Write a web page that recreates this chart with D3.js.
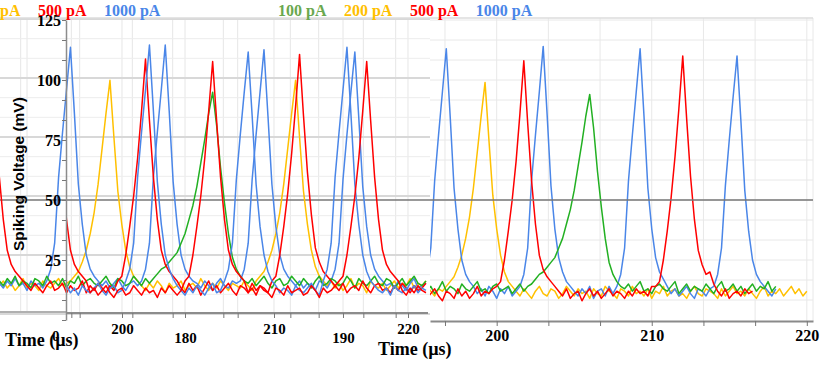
<!DOCTYPE html>
<html>
<head>
<meta charset="utf-8">
<script src="https://cdn.jsdelivr.net/npm/d3@7"></script>
<style>
  body { margin: 0; background: #fff; }
  svg { display: block; }
  text { font-family: "Liberation Serif", "Times New Roman", serif; font-weight: bold; }
</style>
</head>
<body>
<svg id="chart" width="830" height="373"></svg>
<script>
// ---- data (mV, one sample every 0.25 us) ----
var currents = ["100 pA", "200 pA", "500 pA", "1000 pA"];
var yTickLabels = [25, 50, 75, 100, 125];
var bgXTickLabels = [200, 210, 220];
var ovXTickLabelsA = [180, 190];
var ovXTickLabelsB = [200, 210, 220];

var step = 0.25;
var bgStart = 195.0;

var bgBlue = [12, 14, 19, 30, 58, 77, 95, 113, 85, 55, 38, 25, 19, 16, 14,
  11, 13, 10, 14, 12, 9, 13, 11, 14, 10, 12,
  14, 19, 30, 58, 77, 95, 114, 86, 56, 38, 26, 20, 16, 14,
  12, 10, 13, 11, 14, 9, 12, 13, 10, 14, 11,
  14, 19, 30, 58, 77, 95, 113, 85, 55, 38, 26, 20, 17, 14,
  11, 13, 10, 12, 14, 11, 9, 13, 12, 10, 13,
  14, 19, 30, 56, 75, 93, 110, 83, 54, 37, 25, 19, 16, 14,
  12, 10, 13];

var bgYellow = [13, 11, 14, 12, 10, 13, 12,
  14, 16, 18, 22, 27, 34, 43, 55, 70, 85, 99, 75, 52, 38, 27, 20, 16, 14,
  12, 10, 13, 11, 9, 12, 14, 11, 10, 13, 12, 9, 11, 14, 12, 10, 13, 11, 12, 9,
  13, 11, 10, 14, 12, 11, 9, 13, 12, 10, 14, 11, 12, 10, 13, 9, 12, 11, 14, 10,
  12, 13, 10, 11, 9, 12, 14, 11, 10, 13, 12, 11, 9, 13, 10, 12, 14, 11, 12, 10,
  13, 11, 9, 12, 14, 10, 12, 11, 13, 10, 12, 14, 11, 13, 10, 12];

var bgRed = [10, 12, 9, 11, 13, 10, 8, 12, 11, 9, 13, 10, 12, 9, 11, 14, 10, 12, 11, 13,
  14, 16, 25, 37, 50, 66, 86, 108, 82, 58, 40, 27, 21, 18, 16, 14,
  12, 10, 13, 9, 11, 12, 8, 11, 13, 10, 12, 9, 11, 13, 10, 12, 11, 9, 12, 10, 13, 11, 12, 10, 14,
  14, 16, 25, 37, 51, 68, 88, 110, 84, 60, 42, 29, 23, 19, 20, 15,
  12, 10, 13, 9, 11, 12, 10, 13, 11, 12];

var bgGreen = [13, 15, 12, 14, 11, 13, 16, 12, 14, 13, 11, 15, 13, 12, 14, 16, 12, 13, 11, 14,
  15, 12, 13, 14, 11, 13, 15, 12, 14,
  15, 17, 19, 20, 22, 24, 26, 30, 34, 40, 46, 54, 64, 74, 85, 94, 80, 62, 47, 34, 24, 19, 16, 14,
  13, 15, 12, 14, 16, 12, 13, 11, 14, 15, 13, 12, 14, 16, 11, 13, 15, 12, 14, 13,
  12, 15, 13, 11, 14, 16, 12, 13, 15, 12, 14, 11, 13, 15, 12, 14, 13, 16, 12, 14];

// inset copy of the traces
var ovStart = 168.25;
var ovStartRedB = 170.0;
var ovStartBlueB = 172.25;

var ovYellow = [12, 14, 11, 13, 10, 12, 15, 11, 13, 12, 10, 14, 12, 11, 13, 15, 12, 13,
  14, 16, 18, 22, 27, 34, 43, 55, 70, 85, 99, 75, 52, 38, 27, 20, 16, 14,
  12, 10, 13, 11, 14, 12, 9, 13, 11, 12, 14, 10, 12, 13, 11, 15, 12, 10, 13, 11,
  14, 12, 10, 13, 12, 11, 14, 12, 10,
  14, 16, 18, 22, 27, 34, 43, 55, 70, 85, 99, 75, 52, 38, 27, 20, 16, 14,
  12, 14, 11, 13, 10, 12, 15, 11, 13, 12, 9, 14, 12, 11, 13, 10, 12, 14, 11, 13,
  12, 15, 11, 13, 12, 14];

var ovGreen = [14, 12, 15, 13, 16, 12, 14, 13, 11, 15, 14, 12, 16, 13, 14, 12, 15, 11, 14, 13,
  16, 12, 14, 15, 13, 12, 14, 16, 13, 11, 15, 14, 12, 13, 16, 14, 12, 15, 13,
  15, 17, 19, 20, 22, 24, 26, 30, 34, 40, 46, 54, 64, 74, 85, 94, 80, 62, 47, 34, 24, 19, 16, 14,
  13, 15, 12, 14, 16, 13, 11, 14, 15, 12, 13, 16, 14, 12, 15, 13, 11, 14, 16, 12,
  13, 15, 14, 12, 13, 16, 14, 11, 15, 13, 12, 14, 16, 13, 12, 15, 14, 11, 13, 15,
  12, 14, 16, 13, 12, 14];

var ovRedA = [58, 40, 27, 21, 18, 16, 14,
  12, 10, 13, 11, 9, 12, 14, 10, 11, 13, 9, 12, 10, 11, 14, 9, 12, 10, 13, 11, 9, 12, 10,
  14, 16, 25, 37, 50, 66, 86, 108, 82, 58, 40, 27, 21, 18, 16, 14,
  11, 9, 13, 10, 12, 8, 11, 14, 10, 12, 9, 11, 13, 10, 8, 12, 11, 9, 13, 10, 12, 11, 9,
  14, 16, 25, 37, 51, 68, 88, 110, 84, 60, 42, 28, 22, 18, 16, 14,
  12, 10, 13, 9, 11, 12, 10, 14, 11, 9, 12, 13, 10, 11, 9, 12, 10, 13, 11, 9, 12, 10, 11, 13];

var ovRedB = [14, 16, 25, 37, 50, 66, 86, 108, 82, 58, 40, 27, 21, 18, 16, 14,
  9, 11, 8, 10, 12, 9, 7, 10, 11, 8, 9, 12, 10, 8, 11, 9, 10, 7, 11, 9, 12, 10, 8, 10,
  14, 16, 25, 37, 50, 66, 86, 107, 82, 58, 40, 27, 21, 18, 16, 14,
  9, 11, 8, 12, 10, 9, 7, 11, 10, 8, 12, 9, 10, 11, 8, 9, 12, 10, 7, 11, 9, 10, 12,
  14, 16, 25, 37, 50, 66, 86, 107, 82, 58, 40, 27, 21, 18, 16, 14,
  10, 8, 11, 9, 12, 10, 9];

var ovBlueA = [13, 11, 14, 12, 15, 12, 13, 10, 14, 12, 13, 11,
  14, 19, 30, 58, 77, 95, 113, 85, 55, 38, 25, 19, 16, 14,
  12, 14, 11, 13, 15, 12, 10, 13, 14, 12,
  14, 19, 30, 58, 77, 95, 114, 86, 56, 38, 25, 19, 16, 14,
  13, 11, 14, 12, 10, 13, 15, 12, 11, 14, 13,
  14, 19, 30, 57, 76, 94, 112, 84, 55, 37, 25, 19, 16, 14,
  12, 14, 11, 13, 12, 10, 14, 13, 11,
  14, 19, 30, 57, 76, 94, 111, 83, 54, 37, 25, 19, 16, 14,
  12, 13, 11, 14, 12, 10, 13, 15, 11, 12, 13];

var ovBlueB = [10, 12, 9, 11, 8, 12, 10, 9, 11, 13, 10, 8, 11, 12, 9, 10,
  14, 19, 30, 58, 77, 95, 114, 86, 56, 38, 25, 19, 15, 12,
  10, 8, 11, 9, 12, 10, 8, 11, 13, 9, 10,
  14, 19, 30, 57, 76, 94, 111, 84, 55, 37, 25, 18, 14, 12,
  9, 11, 10, 8, 12, 10, 9, 11, 13, 10, 8,
  14, 19, 30, 58, 77, 95, 113, 85, 55, 38, 25, 18, 14, 12,
  10, 9, 11, 8, 12, 10, 9, 11, 10, 12, 9, 11, 10];

// ---- styles ----
var traceColor = { "100 pA": "#22b022", "200 pA": "#ffc000", "500 pA": "#ff0000", "1000 pA": "#4a86e8" };
var legendColor = { "100 pA": "#6aa84f", "200 pA": "#ffc000", "500 pA": "#ff0000", "1000 pA": "#4a86e8" };

var svg = d3.select("#chart");
var third = 25 / 3;

var bgX = d3.scaleLinear().domain([195.7, 220.4]).range([430, 813]);
var bgY = d3.scaleLinear().domain([0, 125]).range([320, 20]);
var ovX = d3.scaleLinear().domain([180, 190]).range([185, 343]);
var ovXB = d3.scaleLinear().domain([200, 210, 220]).range([122, 274, 408]);
var ovY = d3.scaleLinear().domain([0, 125]).range([314, 19]);

var defs = svg.append("defs");
defs.append("clipPath").attr("id", "clipA").append("rect").attr("x", 0).attr("y", 0).attr("width", 430).attr("height", 373);
defs.append("clipPath").attr("id", "clipB").append("rect").attr("x", 66).attr("y", 0).attr("width", 364).attr("height", 373);

// background grid
var gridVals = d3.range(1, 16).map(function (k) { return k * third; });
svg.append("g").selectAll("line").data(gridVals).join("line")
  .attr("x1", 430).attr("x2", 813)
  .attr("y1", function (d) { return bgY(d); }).attr("y2", function (d) { return bgY(d); })
  .attr("stroke", "#e8e8e8");
var bgTickVals = d3.range(0, 8).map(function (k) { return 196.6667 + k * 10 / 3; });
svg.append("g").selectAll("line").data(bgTickVals.concat([220.4])).join("line")
  .attr("x1", function (d) { return bgX(d); }).attr("x2", function (d) { return bgX(d); })
  .attr("y1", 18).attr("y2", 321)
  .attr("stroke", "#e8e8e8");

function drawTraces(g, series, xs, ys) {
  g.selectAll("path").data(series).join("path")
    .attr("d", function (s) {
      return d3.line()
        .x(function (d, i) { return xs(s.t0 + i * step); })
        .y(function (d) { return ys(d); })(s.v);
    })
    .attr("fill", "none")
    .attr("stroke", function (s) { return traceColor[s.c]; })
    .attr("stroke-width", 1.5)
    .attr("stroke-linejoin", "round");
}

drawTraces(svg.append("g"), [
  { c: "200 pA", t0: bgStart, v: bgYellow },
  { c: "1000 pA", t0: bgStart, v: bgBlue },
  { c: "100 pA", t0: bgStart, v: bgGreen },
  { c: "500 pA", t0: bgStart, v: bgRed }
], bgX, bgY);

// background x axis
var gxb = svg.append("g").attr("transform", "translate(0,321)")
  .call(d3.axisBottom(bgX).tickValues(bgTickVals).tickSize(5).tickSizeOuter(0).tickPadding(4)
    .tickFormat(function (d) {
      var r = Math.round(d);
      return (Math.abs(d - r) < 0.01 && bgXTickLabels.indexOf(r) >= 0) ? r : "";
    }));
gxb.select(".domain").attr("stroke", "#8a8a8a").attr("stroke-width", 2);
gxb.selectAll(".tick line").attr("stroke", "#777");
gxb.attr("font-family", null).attr("font-size", 16).selectAll("text").attr("fill", "#000");

// inset panel
svg.append("rect").attr("x", 0).attr("y", 19).attr("width", 430).attr("height", 303).attr("fill", "#fff");

var ovGridX = d3.range(170, 195, 10 / 3).map(function (d) { return ovX(d); })
  .concat(d3.range(193.3333, 221, 10 / 3).map(function (d) { return ovXB(d); }));
svg.append("g").selectAll("line").data(ovGridX).join("line")
  .attr("x1", function (d) { return d; }).attr("x2", function (d) { return d; })
  .attr("y1", 19).attr("y2", 313)
  .attr("stroke", "#e6e6e6");
svg.append("g").selectAll("line").data(d3.range(0, 16)).join("line")
  .attr("x1", 0).attr("x2", 430)
  .attr("y1", function (k) { return ovY(k * third); }).attr("y2", function (k) { return ovY(k * third); })
  .attr("stroke", function (k) { return k % 3 === 0 ? "#d8d8d8" : "#ededed"; })
  .attr("stroke-width", function (k) { return k % 3 === 0 ? 2 : 1; });

// top rule and the dark 50 mV line
svg.append("line").attr("x1", 0).attr("x2", 813).attr("y1", 18).attr("y2", 18).attr("stroke", "#dcdcdc").attr("stroke-width", 1.5);
svg.append("line").attr("x1", 0).attr("x2", 813).attr("y1", bgY(50)).attr("y2", bgY(50)).attr("stroke", "#777").attr("stroke-width", 1.3);

drawTraces(svg.append("g").attr("clip-path", "url(#clipA)"), [
  { c: "200 pA", t0: ovStart, v: ovYellow },
  { c: "1000 pA", t0: ovStart, v: ovBlueA },
  { c: "100 pA", t0: ovStart, v: ovGreen },
  { c: "500 pA", t0: ovStart, v: ovRedA }
], ovX, ovY);
drawTraces(svg.append("g").attr("clip-path", "url(#clipB)"), [
  { c: "1000 pA", t0: ovStartBlueB, v: ovBlueB },
  { c: "500 pA", t0: ovStartRedB, v: ovRedB }
], ovX, ovY);

// inset x axes
svg.append("line").attr("x1", 0).attr("x2", 66).attr("y1", 312).attr("y2", 312).attr("stroke", "#b0b0b0").attr("stroke-width", 2);
svg.append("line").attr("x1", 66).attr("x2", 428).attr("y1", 313).attr("y2", 313).attr("stroke", "#8c8c8c").attr("stroke-width", 2);

function styleAxis(g, size) {
  g.select(".domain").remove();
  g.selectAll(".tick line").attr("stroke", "#777");
  g.attr("font-family", null).attr("font-size", size).selectAll("text").attr("fill", "#000");
}
var gxa = svg.append("g").attr("transform", "translate(0,313)")
  .call(d3.axisBottom(ovX).tickValues(d3.range(173.3333, 195, 10 / 3)).tickSize(5).tickPadding(14)
    .tickFormat(function (d) {
      var r = Math.round(d);
      return (Math.abs(d - r) < 0.01 && ovXTickLabelsA.indexOf(r) >= 0) ? r : "";
    }));
styleAxis(gxa, 15);
var gxB = svg.append("g").attr("transform", "translate(0,313)")
  .call(d3.axisBottom(ovXB).tickValues(d3.range(196.6667, 221, 10 / 3)).tickSize(5).tickPadding(5)
    .tickFormat(function (d) {
      var r = Math.round(d);
      return (Math.abs(d - r) < 0.01 && ovXTickLabelsB.indexOf(r) >= 0) ? r : "";
    }));
styleAxis(gxB, 15);

// y axis
var gy = svg.append("g").attr("transform", "translate(66,0)")
  .call(d3.axisLeft(bgY).tickValues(d3.range(0, 16).map(function (k) { return k * third; }))
    .tickSize(4).tickSizeOuter(0).tickPadding(1)
    .tickFormat(function (d) {
      var r = Math.round(d);
      return (Math.abs(d - r) < 0.01 && yTickLabels.indexOf(r) >= 0) ? r : "";
    }));
gy.select(".domain").attr("stroke", "#8c8c8c").attr("stroke-width", 1.5);
gy.selectAll(".tick line").attr("stroke", "#777");
gy.attr("font-family", null).attr("font-size", 16).selectAll("text").attr("fill", "#000");

// titles
svg.append("text").attr("x", 5).attr("y", 346).attr("font-size", 18).text("Time (\u00b5s)");
svg.append("text").attr("x", 52).attr("y", 341).attr("font-size", 15).text("0");
svg.append("text").attr("x", 378).attr("y", 355).attr("font-size", 18).text("Time (\u00b5s)");
svg.append("text")
  .attr("transform", "translate(24,251) rotate(-90)")
  .style("font-family", "'Liberation Sans', Arial, sans-serif")
  .attr("font-size", 15.5)
  .text("Spiking Voltage (mV)");

// legends
function legend(anchorIndex, anchorX) {
  var g = svg.append("g");
  var x = 0, pos = [];
  currents.forEach(function (c) {
    var t = g.append("text").attr("x", x).attr("y", 16).attr("font-size", 16)
      .attr("fill", legendColor[c]).text(c);
    pos.push(x);
    x += t.node().getComputedTextLength() + 17.5;
  });
  g.attr("transform", "translate(" + (anchorX - pos[anchorIndex]) + ",0)");
}
legend(0, 278);
legend(2, 38);
</script>
</body>
</html>
